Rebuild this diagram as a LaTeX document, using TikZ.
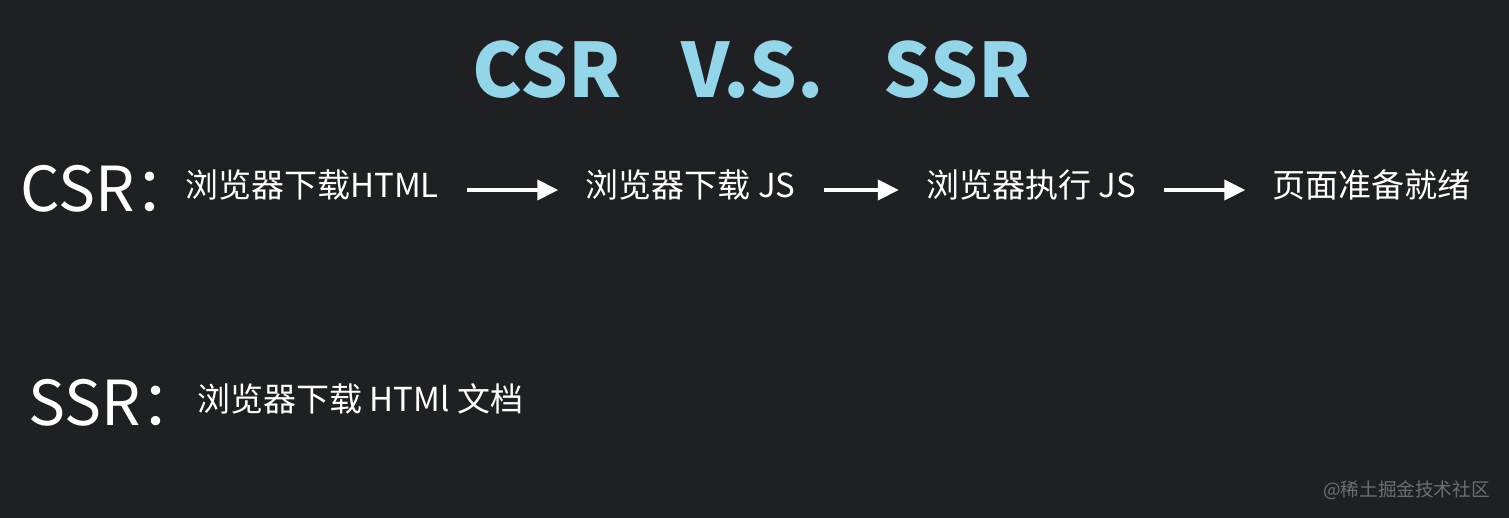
\documentclass[tikz,border=0pt]{standalone}
\usepackage{fontspec}
\newfontfamily\cjk{Noto Sans CJK SC}
\usetikzlibrary{arrows.meta,positioning}
\definecolor{bgdark}{HTML}{1F2023}
\definecolor{skyblue}{HTML}{94D5E9}
\definecolor{markgray}{HTML}{6C6E72}

\begin{document}
\begin{tikzpicture}[
  x=0.5pt,y=-0.5pt,
  heading/.style={font=\cjk\bfseries\fontsize{37.5}{37.5}\selectfont,text=skyblue},
  mode/.style={font=\cjk\fontsize{31}{31}\selectfont,text=white,
               anchor=west,inner sep=0pt},
  stage/.style={font=\cjk\fontsize{16.5}{16.5}\selectfont,text=white,
                inner sep=0pt,text height=0.88em,text depth=0.12em},
  flow/.style={-{Triangle[length=10.5pt,width=10pt]},line width=1.8pt,
               draw=white,shorten <=14pt,shorten >=13.5pt}
]
\useasboundingbox[fill=bgdark] (0,0) rectangle (1509,518);
\node[heading] (title) at (752,70) {CSR\hspace{0.8em}V.S.\hspace{0.8em}SSR};

% client side
\node[mode] (csr) at (20,189) {CSR：};
\node[stage,anchor=west] (loadhtml) at (185,190) {浏览器下载HTML};
\node[stage,right=73pt of loadhtml] (loadjs) {浏览器下载 JS};
\node[stage,right=65pt of loadjs] (runjs) {浏览器执行 JS};
\node[stage,right=68pt of runjs] (ready) {页面准备就绪};
\draw[flow] (loadhtml)--(loadjs);
\draw[flow] (loadjs)--(runjs);
\draw[flow] (runjs)--(ready);

% server side
\node[mode] (ssr) at (28,403) {SSR：};
\node[stage,anchor=west] (loaddoc) at (197,404) {浏览器下载 HTMl 文档};

\node[font=\cjk\fontsize{9.3}{9.3}\selectfont,text=markgray,anchor=east,
      inner sep=0pt] (credit) at (1490,490) {@稀土掘金技术社区};
\end{tikzpicture}
\end{document}
